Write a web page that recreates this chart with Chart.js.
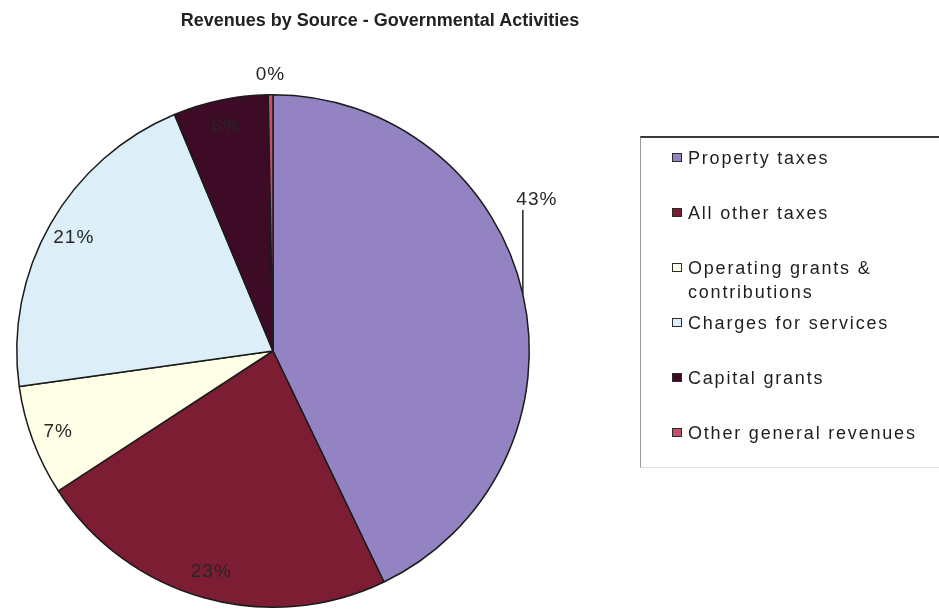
<!DOCTYPE html>
<html>
<head>
<meta charset="utf-8">
<title>Revenues by Source - Governmental Activities</title>
<script src="https://cdn.jsdelivr.net/npm/chart.js@4/dist/chart.umd.min.js"></script>
<style>
  html, body { margin: 0; padding: 0; background: #fff; }
  #wrap { position: relative; width: 939px; height: 609px; overflow: hidden; background: #fff; }
  #pie { position: absolute; left: 0; top: 0; }
  #title {
    position: absolute; left: 0; top: 10px; width: 760px; text-align: center;
    font: bold 18px/20px "Liberation Sans", Arial, sans-serif; color: #222;
  }
  #legend {
    position: absolute; left: 640px; top: 136px; width: 330px; height: 332px;
    border-top: 2px solid #3a3a3a; border-left: 1px solid #9a9a9a; border-bottom: 1px solid #e2e2e2;
    box-sizing: border-box; padding-top: 8px;
    font: 18px/24px "Liberation Sans", Arial, sans-serif; color: #1e1e1e; letter-spacing: 1.8px;
  }
  .item { display: flex; align-items: flex-start; height: 55px; }
  .swatch {
    width: 10px; height: 9px; box-sizing: border-box; margin: 7px 6px 0 31px;
    border: 1.5px solid #2a2a2a; flex: none;
  }
  .text { width: 245px; }
</style>
</head>
<body>
<div id="wrap">
  <canvas id="pie" width="939" height="609"></canvas>
  <div id="title">Revenues by Source - Governmental Activities</div>
  <div id="legend"></div>
</div>
<script>
// Revenue sources and their shares of governmental revenues (percent)
const sources = [
  'Property taxes',
  'All other taxes',
  'Operating grants & contributions',
  'Charges for services',
  'Capital grants',
  'Other general revenues'
];
const revenueShares = [43, 23, 7, 21, 6, 0.3];
const sliceColors = ['#9383C3', '#7D1D33', '#FFFFE8', '#DCEEF8', '#3E0B26', '#C4506A'];

// How each percentage label is placed: inside the slice, outside it, or on a leader line
const labelMode = ['leader', 'inside', 'inside', 'inside', 'inside', 'outside'];

const percentLabels = {
  id: 'percentLabels',
  afterDatasetsDraw(chart) {
    const ctx = chart.ctx;
    const meta = chart.getDatasetMeta(0);
    const values = chart.data.datasets[0].data;
    const total = values.reduce((a, b) => a + b, 0);
    ctx.save();
    ctx.font = '19px "Liberation Sans", Arial, sans-serif';
    if ('letterSpacing' in ctx) ctx.letterSpacing = '1px';
    ctx.fillStyle = '#262626';
    ctx.textAlign = 'center';
    ctx.textBaseline = 'middle';
    meta.data.forEach((arc, i) => {
      const p = arc.getProps(['x', 'y', 'startAngle', 'endAngle', 'outerRadius'], true);
      const mid = (p.startAngle + p.endAngle) / 2;
      const text = Math.round(values[i] / total * 100) + '%';
      const mode = labelMode[i];
      if (mode === 'inside') {
        const d = p.outerRadius * 0.895;
        ctx.fillText(text, p.x + Math.cos(mid) * d, p.y + Math.sin(mid) * d);
      } else if (mode === 'outside') {
        const d = p.outerRadius + 20;
        ctx.fillText(text, p.x + Math.cos(mid) * d, p.y + Math.sin(mid) * d);
      } else {
        // vertical leader from the slice edge up to the label
        const ex = p.x + Math.cos(mid) * p.outerRadius;
        const ey = p.y + Math.sin(mid) * p.outerRadius;
        const topY = ey - 84;
        ctx.strokeStyle = '#222';
        ctx.lineWidth = 1.5;
        ctx.beginPath();
        ctx.moveTo(ex, ey);
        ctx.lineTo(ex, topY);
        ctx.stroke();
        ctx.fillText(text, ex + 14, topY - 10);
      }
    });
    ctx.restore();
  }
};

const chart = new Chart(document.getElementById('pie'), {
  type: 'pie',
  data: {
    labels: sources,
    datasets: [{
      data: revenueShares,
      backgroundColor: sliceColors,
      borderColor: '#1b1b1b',
      borderWidth: 1.5
    }]
  },
  options: {
    responsive: false,
    devicePixelRatio: 1,
    animation: false,
    layout: { padding: { left: 16, right: 409, top: 94, bottom: 1 } },
    plugins: {
      legend: { display: false },
      tooltip: { enabled: false },
      title: { display: false }
    }
  },
  plugins: [percentLabels]
});

// Legend built from the chart's own labels and colours
const legendEl = document.getElementById('legend');
chart.data.labels.forEach((label, i) => {
  const item = document.createElement('div');
  item.className = 'item';
  const sw = document.createElement('span');
  sw.className = 'swatch';
  sw.style.background = chart.data.datasets[0].backgroundColor[i];
  const tx = document.createElement('span');
  tx.className = 'text';
  tx.textContent = label;
  item.appendChild(sw);
  item.appendChild(tx);
  legendEl.appendChild(item);
});
</script>
</body>
</html>
